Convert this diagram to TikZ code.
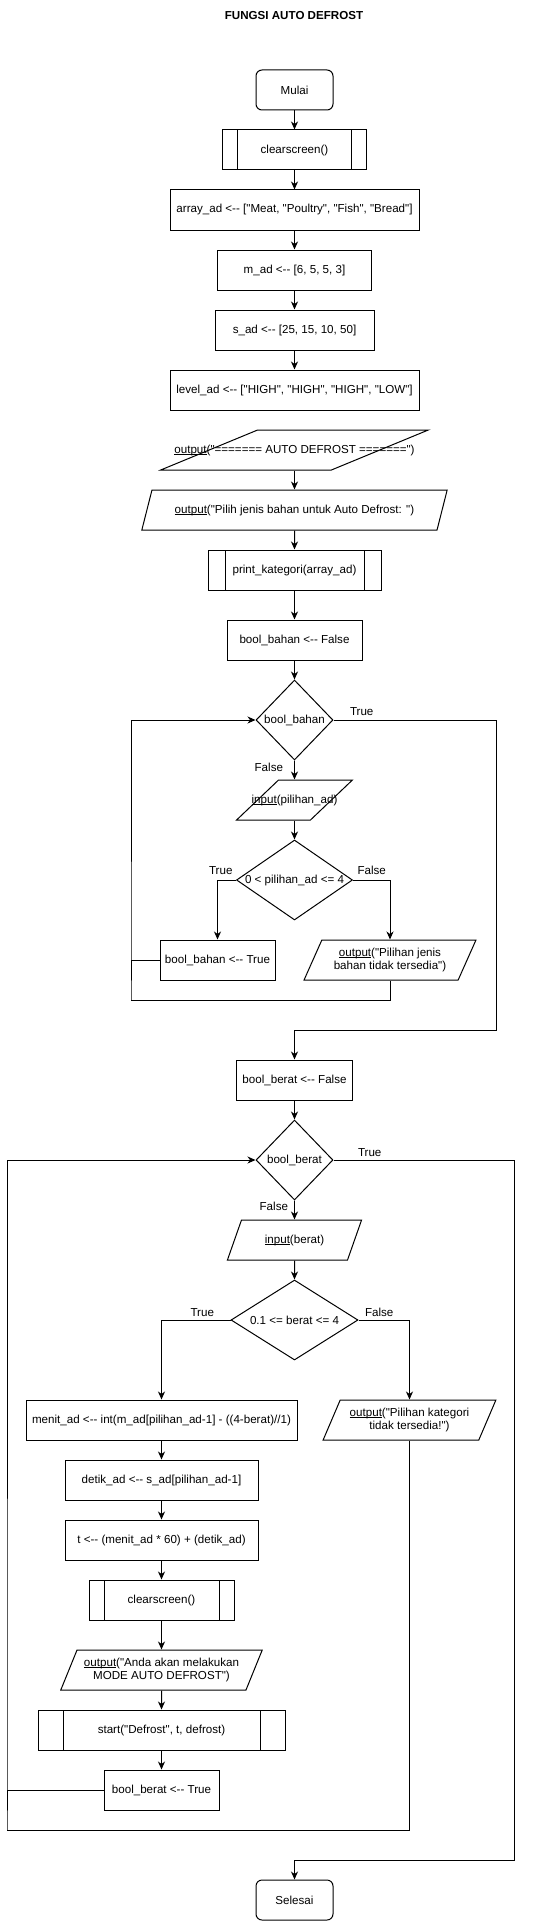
\documentclass[tikz,border=0pt]{standalone}
\usepackage{fontspec}
\setmainfont{Liberation Sans}[Ligatures=TeXOff]
\usetikzlibrary{shapes.geometric,arrows.meta}
\newcommand{\dtext}[1]{\makebox[0pt]{#1}}
\newcommand{\undl}[1]{\setbox0=\hbox{#1}\rlap{\rule[-1.7pt]{\wd0}{0.8pt}}\box0}

\begin{document}
\begin{tikzpicture}[
        x=1pt, y=-1pt,
        line width=1pt,
        font=\fontsize{11.6}{13.6}\selectfont
    ]
    \tikzset{
        termnode/.style = {rectangle, rounded corners=6pt, draw=black, align=center, minimum width=77pt, minimum height=40pt},
        procnode/.style = {rectangle, draw=black, align=center, minimum width=#1, minimum height=40pt},
        subnode/.style 2 args = {procnode=#1, path picture={
            \draw ([xshift=#2]path picture bounding box.north west) -- ([xshift=#2]path picture bounding box.south west);
            \draw ([xshift=-#2]path picture bounding box.north east) -- ([xshift=-#2]path picture bounding box.south east);}},
        ionode/.style = {trapezium, trapezium left angle=63.4, trapezium right angle=116.6, trapezium stretches=true, draw=black, align=center, minimum width=#1, minimum height=40pt},
        decnode/.style 2 args = {diamond, draw=black, inner sep=0pt, minimum width=#1, minimum height=#2},
        edgea/.style = {-{Stealth[length=8pt,width=7pt,inset=2.5pt]}},
        edgen/.style = {-},
        lbl/.style = {inner sep=0pt},
    }
    \useasboundingbox (0,0) rectangle (546,1921);
    \node[font=\fontsize{11.6}{13.6}\selectfont\bfseries] at (294,16) (title) {FUNGSI AUTO DEFROST};
    \node[termnode] at (294.5,90) (mulai) {Mulai};
    \node[subnode={144pt}{15pt}] at (294.5,150) (cls1) {clearscreen()};
    \node[procnode=249pt] at (294.5,210) (arr) {array\_ad <-- ["Meat, "Poultry", "Fish", "Bread"]};
    \node[procnode=154pt] at (294.5,270) (mad) {m\_ad <-- [6, 5, 5, 3]};
    \node[procnode=159pt] at (294.5,330) (sad) {s\_ad <-- [25, 15, 10, 50]};
    \node[procnode=249pt] at (294.5,390) (lvl) {level\_ad <-- ["HIGH", "HIGH", "HIGH", "LOW"]};
    \node[ionode=268pt] at (294.5,450) (out1) {\dtext{\undl{output}("======= AUTO DEFROST =======")}};
    \node[ionode=306pt] at (294.5,510) (out2) {\undl{output}("Pilih jenis bahan untuk Auto Defrost: ")};
    \node[subnode={173pt}{17pt}] at (294.5,570) (prk) {print\_kategori(array\_ad)};
    \node[procnode=135pt] at (294.5,640) (bbf) {bool\_bahan <-- False};
    \node[decnode={77pt}{80pt}] at (294.5,720) (dbahan) {\dtext{bool\_bahan}};
    \node[ionode=116pt] at (294.5,800) (inpil) {\dtext{\undl{input}(pilihan\_ad)}};
    \node[decnode={116pt}{80pt}] at (294.5,880) (dpil) {\dtext{0 < pilihan\_ad <= 4}};
    \node[procnode=115pt] at (217.5,960) (btrue) {bool\_bahan <-- True};
    \node[ionode=172pt] at (390,960) (ojenis) {\undl{output}("Pilihan jenis\\bahan tidak tersedia")};
    \coordinate (loopa) at (131,1000);
    \coordinate (loopb) at (496,1030);
    \node[procnode=116pt] at (294.5,1080) (bberf) {bool\_berat <-- False};
    \node[decnode={77pt}{80pt}] at (294.5,1160) (dberat) {\dtext{bool\_berat}};
    \node[ionode=135pt] at (294.5,1240) (inberat) {\undl{input}(berat)};
    \node[decnode={127pt}{80pt}] at (294.5,1320) (dwt) {\dtext{0.1 <= berat <= 4}};
    \node[procnode=271pt] at (161.5,1420) (menit) {menit\_ad <-- int(m\_ad[pilihan\_ad-1] - ((4-berat)//1)};
    \node[ionode=173pt] at (409.5,1420) (okat) {\undl{output}("Pilihan kategori\\tidak tersedia!")};
    \node[procnode=193pt] at (161.5,1480) (detik) {detik\_ad <-- s\_ad[pilihan\_ad-1]};
    \node[procnode=193pt] at (161.5,1540) (tval) {t <-- (menit\_ad * 60) + (detik\_ad)};
    \node[subnode={145pt}{15pt}] at (161.5,1600) (cls2) {clearscreen()};
    \node[ionode=202pt] at (161.5,1670) (oanda) {\undl{output}("Anda akan melakukan\\MODE AUTO DEFROST")};
    \node[subnode={247pt}{25pt}] at (161.5,1730) (start) {start("Defrost", t, defrost)};
    \node[procnode=115pt] at (161.5,1790) (bbert) {bool\_berat <-- True};
    \coordinate (loopc) at (7,1830);
    \coordinate (loopd) at (514,1860);
    \node[termnode] at (294.5,1900) (selesai) {Selesai};
    %
    \draw[edgea] (mulai) edge (cls1);
    \draw[edgea] (cls1) edge (arr);
    \draw[edgea] (arr) edge (mad);
    \draw[edgea] (mad) edge (sad);
    \draw[edgea] (sad) edge (lvl);
    \draw[edgea] (out1) edge (out2);
    \draw[edgea] (out2) edge (prk);
    \draw[edgea] (prk) edge (bbf);
    \draw[edgea] (bbf) edge (dbahan);
    \draw[edgea] (dbahan) edge node[lbl, at start, anchor=north east, xshift=-11pt, yshift=-2pt] {False} (inpil);
    \draw[edgea] (inpil) edge (dpil);
    %
    \draw[edgea] (dpil) -| node[lbl, pos=0, anchor=south east, xshift=-3pt, yshift=5pt] {True} (btrue);
    \draw[edgea] (dpil) -| node[lbl, pos=0, anchor=south west, xshift=4pt, yshift=5pt] {False} (ojenis);
    \draw[edgea] (btrue) -| (loopa) |- (dbahan);
    \draw[edgen] (ojenis) |- (loopa);
    \draw[edgea] (dbahan) -| node[lbl, pos=0, anchor=south west, xshift=16pt, yshift=4pt] {True} (loopb) -| (bberf);
    %
    \draw[edgea] (bberf) edge (dberat);
    \draw[edgea] (dberat) edge node[lbl, at start, anchor=north east, xshift=-6pt, yshift=-1pt] {False} (inberat);
    \draw[edgea] (inberat) edge (dwt);
    \draw[edgea] (dwt) -| node[lbl, pos=0, anchor=south east, xshift=-16pt, yshift=3pt] {True} (menit);
    \draw[edgea] (dwt) -| node[lbl, pos=0, anchor=south west, xshift=6pt, yshift=3pt] {False} (okat);
    %
    \draw[edgea] (menit) edge (detik);
    \draw[edgea] (detik) edge (tval);
    \draw[edgea] (tval) edge (cls2);
    \draw[edgea] (cls2) edge (oanda);
    \draw[edgea] (oanda) edge (start);
    \draw[edgea] (start) edge (bbert);
    \draw[edgea] (bbert) -| (loopc) |- (dberat);
    \draw[edgen] (okat) |- (loopc);
    \draw[edgea] (dberat) -| node[lbl, pos=0, anchor=south west, xshift=24pt, yshift=3pt] {True} (loopd) -| (selesai);
\end{tikzpicture}
\end{document}
